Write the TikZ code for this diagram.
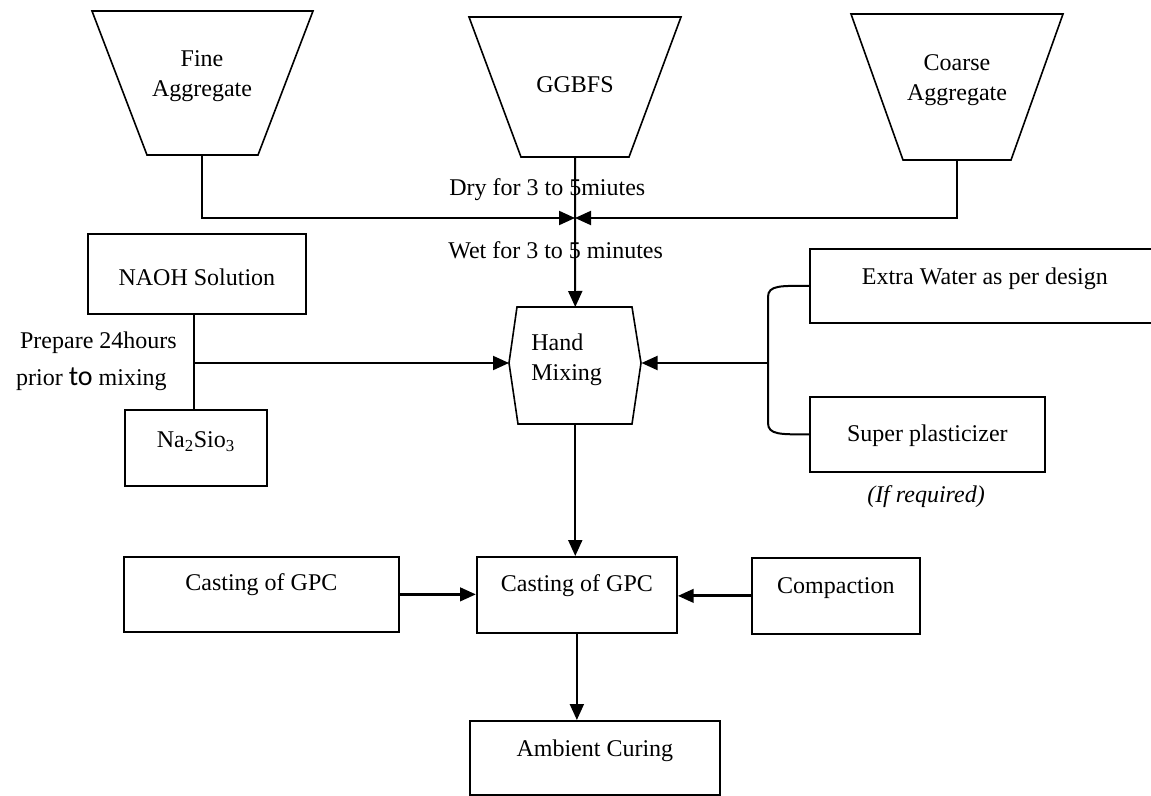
\documentclass[tikz,border=0pt]{standalone}
\usepackage{fontspec}
\setmainfont{Liberation Serif}
\newfontfamily\calib{Carlito}
\usetikzlibrary{arrows.meta,calc}
\begin{document}
\begin{tikzpicture}[x=0.75pt, y=-0.75pt,
  font=\fontsize{18}{22.5}\selectfont,
  box/.style={draw, line width=1.3pt, inner xsep=0pt, inner ysep=0pt, align=center, anchor=north west},
  hopperline/.style={line width=1.2pt, line join=miter},
  conn/.style={line width=1.5pt},
  arr/.style={conn, -{Triangle[length=12pt,width=10.5pt]}},
  thickarr/.style={line width=2.4pt, -{Triangle[length=12pt,width=10pt]}},
  txt/.style={inner sep=0pt}]
\useasboundingbox (0,0) rectangle (1151,795);

% hoppers
\draw[hopperline] (92,11) -- (313,11) -- (258,155) -- (147,155) -- cycle;
\draw[hopperline] (469,17) -- (681,17) -- (629,157) -- (521,157) -- cycle;
\draw[hopperline] (851,14) -- (1063,14) -- (1011,160) -- (903,160) -- cycle;
\node[txt, align=center, anchor=north] (fine) at (202,50) {Fine\\Aggregate};
\node[txt, anchor=base] (ggbfs) at (575,93) {GGBFS};
\node[txt, align=center, anchor=north] (coarse) at (957,54) {Coarse\\Aggregate};
\coordinate (fineOut) at (202,155);
\coordinate (ggOut) at (575,157);
\coordinate (coarseOut) at (957,160);
\coordinate (mixJ) at (575,218);

% boxes
\node[box, minimum width=163.5pt, text height=39pt, text depth=21pt] (naoh) at (87,233) {NAOH Solution};
\node[box, minimum width=106.5pt, text height=28.5pt, text depth=28.5pt] (na2) at (124,409) {Na\textsubscript{2}Sio\textsubscript{3}};
\node[box, minimum width=262.5pt, text height=27pt, text depth=28.5pt] (extra) at (809,248) {Extra Water as per design};
\node[box, minimum width=176.25pt, text height=33.75pt, text depth=22.5pt] (super) at (809,396) {Super plasticizer};
\node[box, minimum width=206.25pt, text height=25.5pt, text depth=30.75pt] (castL) at (123,556) {Casting of GPC};
\node[box, minimum width=150pt, text height=26.25pt, text depth=30.75pt] (castC) at (476,556) {Casting of GPC};
\node[box, minimum width=126pt, text height=27pt, text depth=30pt] (compaction) at (751,557) {Compaction};
\node[box, minimum width=187.5pt, text height=27pt, text depth=28.5pt] (ambient) at (469,720) {Ambient Curing};

% hand mixing
\node[inner sep=0pt, minimum width=99pt, minimum height=87.75pt, anchor=north west] (hm) at (509,307) {};
\draw[hopperline] (517,307) -- (632,307) -- (641,363) -- (632,424) -- (518,424) -- (509,363) -- cycle;
\node[txt, align=left, anchor=north west] (hmtext) at (531,334) {Hand\\Mixing};

% labels
\node[txt, anchor=base west] (dry) at (449,195) {Dry for 3 to 5miutes};
\node[txt, anchor=base west] (wet) at (448,258) {Wet for 3 to 5 minutes};
\node[txt, anchor=base east] (prep1) at (177,348) {Prepare 24hours};
\node[txt, anchor=base east] (prep2) at (167,385) {prior {\calib\fontsize{21}{22}\selectfont to} mixing};
\node[txt, anchor=base] (ifreq) at (926,502) {\itshape (If required)};

% connectors
\draw[arr] (fineOut) |- (mixJ);
\draw[arr] (coarseOut) |- (mixJ);
\draw[arr] (ggOut) -- (hm.north);

\coordinate (naJ) at (194,363);
\draw[conn] (naoh.south -| naJ) -- (na2.north -| naJ);
\draw[arr] (naJ) -- (naJ -| hm.west);

\coordinate (brTop) at (768,297);
\coordinate (brBot) at (768,423);
\coordinate (brJ) at (768,363);
\draw[conn] (extra.west) .. controls +(-28,0) and +(0,-12) .. (brTop) -- (brBot) .. controls +(0,12) and +(-28,0) .. (super.west);
\draw[arr] (brJ) -- (brJ -| hm.east);

\draw[arr] (hm.south) -- (hm.south |- castC.north);
\draw[arr] (castC.south) -- (castC.south |- ambient.north);
\draw[thickarr] (castL.east) -- (castL.east -| castC.west);
\draw[thickarr] (compaction.west) -- (compaction.west -| castC.east);
\end{tikzpicture}
\end{document}
